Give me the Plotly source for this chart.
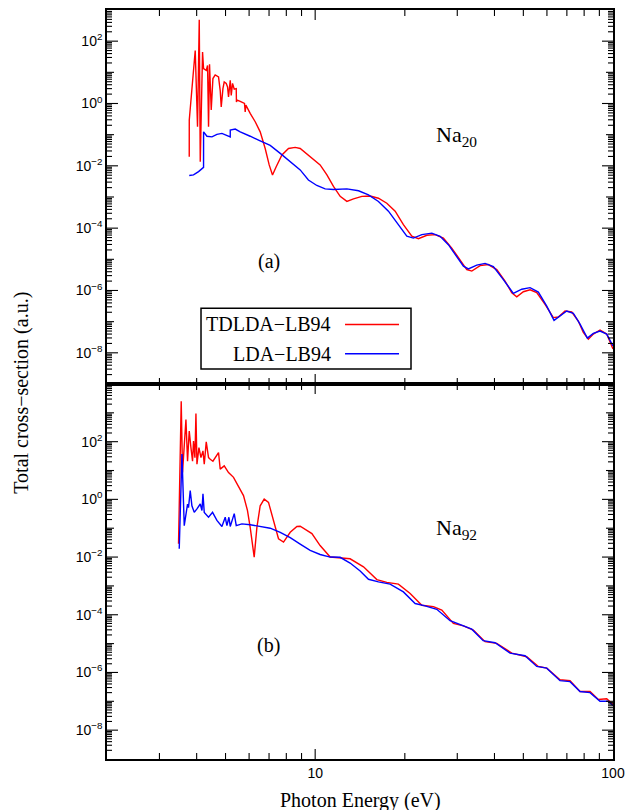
import math
import plotly.graph_objects as go

# ---------------- data ----------------
# Panel (a): Na20
e_td20 = [3.777, 3.778, 3.956, 4.027, 4.081, 4.113, 4.187, 4.219, 4.308, 4.352, 4.385, 4.419, 4.477,
          4.536, 4.616, 4.737, 4.799, 4.837, 4.901, 4.950, 5.028, 5.079, 5.118, 5.186, 5.226, 5.279,
          5.349, 5.432, 5.440, 5.461, 5.602, 5.790, 5.822, 5.852, 6.051, 6.290, 6.537, 6.795, 7.008,
          7.190, 7.398, 7.733, 8.137, 8.570, 8.906, 9.62, 10.39, 10.95, 11.52, 12.13, 12.78, 13.45,
          14.35, 15.30, 16.31, 17.40, 18.56, 19.78, 21.11, 22.22, 23.71, 25.28, 26.95, 28.75, 30.66,
          32.29, 33.56, 35.79, 38.15, 40.71, 43.40, 45.71, 47.52, 50.01, 52.66, 55.46, 59.14, 63.05,
          65.53, 69.02, 72.69, 76.47, 79.49, 82.65, 85.90, 90.46, 95.26, 100.0]
s_td20 = [1.95e-2, 0.295, 50, 0.178, 490, 1.35e-2, 44.7, 13.2, 11.5, 16.6, 0.178, 18.2, 0.617,
          6.3, 8.3, 7.1, 2.6, 0.78, 3.0, 4.9, 4.4, 3.4, 1.62, 5.5, 1.82, 4.4,
          2.9, 3.0, 1.12, 1.29, 1.17, 1.0, 0.54, 0.89, 0.48, 0.26, 0.123, 3.6e-2, 1.07e-2,
          5.1e-3, 9.3e-3, 2.24e-2, 3.6e-2, 3.9e-2, 3.6e-2, 1.95e-2, 1.07e-2, 5.1e-3, 2.19e-3, 1.05e-3, 7.2e-4, 8.7e-4,
          1.05e-3, 1.07e-3, 9.1e-4, 6.3e-4, 3.5e-4, 1.29e-4, 5.5e-5, 4.6e-5, 5.9e-5, 6.2e-5, 4.8e-5, 2.29e-5, 1.0e-5,
          4.7e-6, 4.2e-6, 6.3e-6, 6.8e-6, 4.7e-6, 2.0e-6, 8.5e-7, 6.3e-7, 9.1e-7, 1.05e-6, 8.5e-7, 3.6e-7, 1.35e-7,
          1.41e-7, 2.19e-7, 2.04e-7, 1.05e-7, 4.5e-8, 2.75e-8, 4.0e-8, 5.4e-8, 4.0e-8, 1.32e-8]

e_lda20 = [3.777, 3.904, 4.059, 4.219, 4.220, 4.331, 4.502, 4.678, 4.863, 5.028, 5.186, 5.187, 5.390,
           5.602, 5.822, 6.051, 6.537, 7.063, 7.633, 8.245, 8.906, 9.49, 10.13, 10.80, 11.52, 12.78,
           13.98, 15.10, 16.31, 17.62, 19.03, 20.31, 21.37, 22.81, 24.64, 26.27, 28.01, 29.89, 31.46,
           32.69, 34.88, 37.20, 39.66, 42.84, 46.28, 49.39, 52.66, 56.15, 59.92, 63.39, 66.39, 69.93,
           73.59, 77.50, 82.02, 85.90, 90.46, 95.26, 100.0]
s_lda20 = [4.9e-3, 5.1e-3, 6.5e-3, 8.9e-3, 0.123, 8.9e-2, 8.5e-2, 0.102, 0.110, 9.8e-2, 8.5e-2, 0.141, 0.151,
           0.123, 0.107, 8.9e-2, 6.3e-2, 4.5e-2, 2.5e-2, 1.35e-2, 7.4e-3, 3.5e-3, 2.34e-3, 1.82e-3, 1.74e-3, 1.82e-3,
           1.58e-3, 1.17e-3, 7.2e-4, 3.5e-4, 1.29e-4, 5.5e-5, 4.8e-5, 6.2e-5, 6.9e-5, 5.5e-5, 2.95e-5, 1.26e-5, 6.0e-6,
           4.9e-6, 6.5e-6, 7.4e-6, 5.8e-6, 2.24e-6, 8.1e-7, 1.10e-6, 1.23e-6, 8.9e-7, 3.16e-7, 1.10e-7, 1.51e-7, 2.19e-7,
           1.86e-7, 8.3e-8, 2.95e-8, 4.2e-8, 5.0e-8, 4.0e-8, 1.66e-8]

# Panel (b): Na92
e_td92 = [3.477, 3.550, 3.586, 3.682, 3.728, 3.777, 3.827, 3.875, 3.904, 3.947, 3.978, 4.009, 4.071,
          4.135, 4.200, 4.242, 4.308, 4.385, 4.443, 4.536, 4.737, 4.799, 4.950, 5.118, 5.319, 5.529,
          5.746, 5.926, 6.051, 6.241, 6.373, 6.537, 6.743, 6.971, 7.246, 7.532, 7.829, 8.245, 8.683,
          8.906, 9.75, 10.39, 11.23, 12.13, 13.10, 14.53, 16.11, 17.40, 19.03, 20.84, 22.81, 24.94,
          26.62, 29.11, 31.46, 33.97, 37.20, 40.71, 45.71, 51.32, 56.15, 59.92, 66.39, 71.73, 77.50,
          83.73, 89.28, 95.26, 100.0]
s_td92 = [2.9e-2, 2500, 8.5, 590, 21, 234, 62, 21, 105, 28, 955, 16.6, 62,
          28, 48, 16.6, 98, 28, 24.5, 21, 42, 11.2, 14.5, 8.5, 5.8, 2.95,
          1.35, 0.41, 0.107, 1.0e-2, 0.107, 0.60, 1.02, 0.79, 0.186, 4.3e-2, 3.3e-2, 7.2e-2, 0.115,
          0.117, 6.5e-2, 2.5e-2, 1.0e-2, 9.3e-3, 8.7e-3, 4.6e-3, 1.66e-3, 1.32e-3, 1.15e-3, 5.5e-4, 2.14e-4, 1.91e-4,
          1.45e-4, 5.0e-5, 4.1e-5, 2.95e-5, 1.17e-5, 1.02e-5, 4.7e-6, 3.5e-6, 1.62e-6, 1.41e-6, 5.6e-7, 5.2e-7, 2.19e-7,
          2.19e-7, 1.15e-7, 1.23e-7, 7.8e-8]

e_lda92 = [3.496, 3.570, 3.634, 3.682, 3.728, 3.756, 3.806, 3.856, 3.926, 4.009, 4.113, 4.167, 4.200,
           4.242, 4.385, 4.523, 4.678, 4.863, 4.989, 5.054, 5.132, 5.186, 5.349, 5.432, 5.675, 6.051,
           6.537, 7.063, 7.633, 8.245, 8.906, 9.62, 10.39, 11.23, 12.13, 13.10, 14.16, 15.10, 16.31,
           17.85, 19.78, 21.66, 23.39, 25.61, 28.38, 31.07, 33.56, 36.65, 40.18, 45.11, 50.65, 55.46,
           59.92, 66.39, 71.73, 77.50, 83.73, 90.46, 96.43, 100.0]
s_lda92 = [1.95e-2, 37, 0.123, 0.32, 0.69, 0.52, 2.0, 0.60, 0.355, 0.47, 0.69, 0.41, 1.55,
           0.355, 0.24, 0.355, 0.186, 0.115, 0.24, 0.123, 0.24, 0.115, 0.32, 0.123, 0.141, 0.132,
           0.117, 0.10, 7.2e-2, 4.7e-2, 2.8e-2, 1.7e-2, 1.23e-2, 1.0e-2, 9.8e-3, 6.2e-3, 3.3e-3, 1.7e-3, 1.38e-3,
           1.15e-3, 6.2e-4, 2.45e-4, 2.04e-4, 1.55e-4, 6.2e-5, 4.4e-5, 3.16e-5, 1.26e-5, 1.07e-5, 4.7e-6, 3.8e-6, 1.62e-6,
           1.41e-6, 5.2e-7, 4.8e-7, 2.19e-7, 2.0e-7, 1.0e-7, 1.0e-7, 7.1e-8]

series_names = ["TDLDA\u2212LB94", "LDA\u2212LB94"]
series_colors = ["#ff0000", "#0000ff"]

x_tickvals = [10, 100]
x_ticktext = ["10", "100"]
y_tickvals = [1e-8, 1e-6, 1e-4, 1e-2, 1, 1e2]
y_ticktext = ["10<sup>\u22128</sup>", "10<sup>\u22126</sup>", "10<sup>\u22124</sup>",
              "10<sup>\u22122</sup>", "10<sup>0</sup>", "10<sup>2</sup>"]

# ---------------- figure ----------------
SERIF = "Liberation Serif, Times New Roman, serif"
SANS = "Liberation Sans, Arial, sans-serif"
XLO, XHI = 0.30103, 2.0          # log10 x-range (2 .. 100 eV)
PLOT_W, PLOT_H = 506.0, 751.0
panels = [("x", "y", -9, 4, [0, 0.5007]), ("x2", "y2", -9, 3, [0.5007, 1])]

fig = go.Figure()
lw = 1.4
fig.add_trace(go.Scatter(x=e_td20, y=s_td20, mode="lines", name=series_names[0],
                         line=dict(color=series_colors[0], width=lw), xaxis="x2", yaxis="y2"))
fig.add_trace(go.Scatter(x=e_lda20, y=s_lda20, mode="lines", name=series_names[1],
                         line=dict(color=series_colors[1], width=lw), xaxis="x2", yaxis="y2"))
fig.add_trace(go.Scatter(x=e_td92, y=s_td92, mode="lines", name=series_names[0],
                         line=dict(color=series_colors[0], width=lw), xaxis="x", yaxis="y"))
fig.add_trace(go.Scatter(x=e_lda92, y=s_lda92, mode="lines", name=series_names[1],
                         line=dict(color=series_colors[1], width=lw), xaxis="x", yaxis="y"))

# ---- inward tick marks on all four sides of each panel (axis decoration) ----
x_minor = [d * 10 ** k for k in (0, 1) for d in range(2, 10)]
ppd_x = PLOT_W / (XHI - XLO)                      # pixels per decade along x
for xa, ya, lo, hi, dom in panels:
    ppd_y = (dom[1] - dom[0]) * PLOT_H / (hi - lo)  # pixels per decade along y
    tx, ty = [], []
    for vals, L in ((x_tickvals, 10.0), (x_minor, 6.0)):
        for v in vals:
            if XLO < math.log10(v) < XHI:
                tx += [v, v, None, v, v, None]
                ty += [10 ** lo, 10 ** (lo + L / ppd_y), None,
                       10 ** hi, 10 ** (hi - L / ppd_y), None]
    for k in range(lo, hi + 1):
        for d in range(1, 10):
            lv = math.log10(d) + k
            if not (lo < lv < hi):
                continue
            L = 11.0 if (d == 1 and k % 2 == 0) else (7.0 if d == 1 else 5.0)
            w = d * 10.0 ** k
            tx += [10 ** XLO, 10 ** (XLO + L / ppd_x), None,
                   10 ** XHI, 10 ** (XHI - L / ppd_x), None]
            ty += [w, w, None, w, w, None]
    fig.add_trace(go.Scatter(x=tx, y=ty, mode="lines", line=dict(color="black", width=1.1),
                             xaxis=xa, yaxis=ya, hoverinfo="skip", cliponaxis=False,
                             connectgaps=False, showlegend=False))

xcommon = dict(type="log", range=[XLO, XHI], showline=True, linecolor="black", linewidth=1.6,
               mirror=True, ticks="", tickmode="array", tickvals=x_tickvals, ticktext=x_ticktext,
               showgrid=False, zeroline=False,
               tickfont=dict(family=SANS, size=14, color="black"))
ycommon = dict(type="log", showline=True, linecolor="black", linewidth=1.6,
               mirror=True, ticks="", tickmode="array", tickvals=y_tickvals, ticktext=y_ticktext,
               showgrid=False, zeroline=False,
               tickfont=dict(family=SANS, size=14, color="black"))

fig.update_layout(
    width=639, height=810,
    margin=dict(l=107, r=26, t=8, b=51),
    plot_bgcolor="white",
    showlegend=False,
    xaxis=dict(xcommon, anchor="y"),
    xaxis2=dict(xcommon, anchor="y2", showticklabels=False),
    yaxis=dict(ycommon, anchor="x", domain=panels[0][4], range=[panels[0][2], panels[0][3]]),
    yaxis2=dict(ycommon, anchor="x2", domain=panels[1][4], range=[panels[1][2], panels[1][3]]),
)

# ---- legend box (label left, line sample right, as in the original) ----
leg_rows_y = [0.5802, 0.5410]
shapes = [dict(type="rect", xref="paper", yref="paper", x0=0.1858, x1=0.6008, y0=0.5206, y1=0.6019,
               line=dict(color="black", width=1.5), fillcolor="white", layer="above")]
for col, yy in zip(series_colors, leg_rows_y):
    shapes.append(dict(type="line", xref="paper", yref="paper", x0=0.4704, x1=0.5771, y0=yy, y1=yy,
                       line=dict(color=col, width=1.5), layer="above"))
fig.update_layout(shapes=shapes)

ann = []
ann.append(dict(text="Total cross\u2212section (a.u.)", xref="paper", yref="paper",
                x=-0.168, y=0.489, textangle=-90, showarrow=False,
                font=dict(family=SERIF, size=20, color="black"), xanchor="center", yanchor="middle"))
ann.append(dict(text="Photon Energy (eV)", xref="paper", yref="paper",
                x=0.5, y=-0.056, showarrow=False,
                font=dict(family=SERIF, size=20, color="black"), xanchor="center", yanchor="middle"))
ann.append(dict(text="Na<sub>20</sub>", xref="paper", yref="paper", x=0.690, y=0.832, showarrow=False,
                xanchor="center", yanchor="middle", font=dict(family=SERIF, size=22, color="black")))
ann.append(dict(text="(a)", xref="paper", yref="paper", x=0.320, y=0.6645, showarrow=False,
                xanchor="center", yanchor="middle", font=dict(family=SERIF, size=20, color="black")))
ann.append(dict(text="Na<sub>92</sub>", xref="paper", yref="paper", x=0.690, y=0.3076, showarrow=False,
                xanchor="center", yanchor="middle", font=dict(family=SERIF, size=22, color="black")))
ann.append(dict(text="(b)", xref="paper", yref="paper", x=0.320, y=0.1518, showarrow=False,
                xanchor="center", yanchor="middle", font=dict(family=SERIF, size=20, color="black")))
for name, yy in zip(series_names, leg_rows_y):
    ann.append(dict(text=name, xref="paper", yref="paper", x=0.4466, y=yy, xanchor="right",
                    yanchor="middle", showarrow=False, font=dict(family=SERIF, size=20, color="black")))
fig.update_layout(annotations=ann)

fig.write_html("out.html")
